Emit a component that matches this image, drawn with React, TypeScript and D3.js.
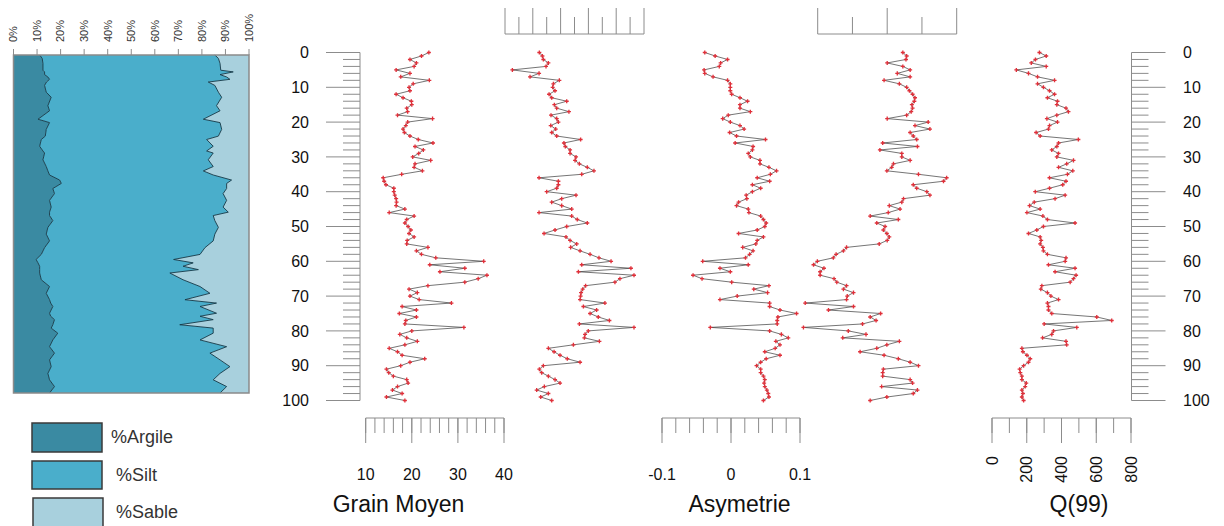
import React from 'react';
import * as d3 from 'd3';

// ---------- DATA ----------
const depths = [0,1,2,3,4,5,6,7,8,9,10,11,12,13,14,15,16,17,18,19,20,21,22,23,24,25,26,27,28,29,30,31,32,33,34,35,36,37,38,39,40,41,42,43,44,45,46,47,48,49,50,51,52,53,54,55,56,57,58,59,60,61,62,63,64,65,66,67,68,69,70,71,72,73,74,75,76,77,78,79,80,81,82,83,84,85,86,87,88,89,90,91,92,93,94,95,96,97,98,99,100];

const grainMoyen = [23.7,22.1,19.6,21.0,20.5,16.6,19.6,17.6,23.8,20.3,
 19.4,19.6,16.6,18.1,19.9,20.0,18.9,19.1,16.9,24.5,
 19.1,18.7,18.1,18.4,19.6,21.4,24.6,20.7,22.5,21.5,
 20.2,24.1,20.7,20.5,22.3,17.8,13.8,14.0,14.4,16.1,
 16.1,16.3,16.6,16.7,16.6,18.5,15.1,20.5,18.9,18.5,
 19.2,19.8,19.4,20.5,19.0,18.9,23.5,21.0,22.1,25.2,
 35.6,23.9,31.5,26.1,36.3,34.4,31.5,23.5,19.4,21.2,
 19.6,21.6,28.6,17.9,21.0,17.3,21.0,18.7,18.5,31.3,
 20.0,17.4,18.9,21.2,18.5,15.1,16.9,17.9,22.8,19.6,
 17.6,14.5,15.0,16.0,18.9,19.2,16.9,15.8,17.9,14.5,18.5];

const triage = [2.47,2.69,2.76,3.12,2.95,0.53,2.45,1.80,3.91,3.48,
 3.43,3.60,3.17,3.36,4.44,3.55,3.72,4.60,3.31,3.72,
 3.84,3.29,3.65,3.36,3.72,5.44,4.24,4.34,4.68,4.68,
 5.11,5.04,5.35,5.92,6.40,5.52,2.45,3.84,3.84,3.72,
 3.00,5.11,4.08,3.36,4.08,4.80,2.45,4.80,5.20,5.92,
 4.44,3.60,2.81,4.39,4.68,5.16,4.72,5.40,6.12,6.76,
 7.63,5.52,9.06,5.28,9.28,8.27,7.91,5.80,5.59,5.47,
 5.44,5.40,7.19,5.64,6.59,6.12,6.71,7.51,5.35,9.28,
 5.99,5.76,5.71,6.79,4.92,3.12,3.53,3.96,4.48,5.40,
 2.76,2.47,2.64,3.12,3.60,3.96,2.83,2.28,3.12,2.57,3.36];

const asymetrie = [-0.038,-0.023,-0.005,-0.015,-0.017,-0.039,-0.038,-0.026,-0.005,-0.001,
 -0.001,-0.001,0.001,0.013,0.024,0.013,0.013,0.028,-0.004,-0.012,
 -0.001,0.013,0.019,-0.002,0.008,0.050,0.006,0.032,0.031,0.025,
 0.028,0.042,0.042,0.055,0.066,0.057,0.038,0.056,0.031,0.043,
 0.031,0.022,0.023,0.011,0.008,0.025,0.026,0.043,0.047,0.051,
 0.049,0.038,0.011,0.047,0.038,0.036,0.017,0.032,0.027,0.021,
 -0.041,0.025,-0.016,-0.001,-0.055,-0.042,0.001,0.055,0.033,0.053,
 0.009,-0.016,0.056,0.056,0.071,0.095,0.068,0.067,0.067,-0.030,
 0.056,0.073,0.083,0.065,0.071,0.064,0.049,0.071,0.051,0.043,
 0.037,0.043,0.043,0.047,0.049,0.048,0.049,0.052,0.054,0.055,0.047];

const kurtosis = [3.45,3.56,3.54,3.00,3.45,3.66,3.29,3.66,2.91,3.35,
 3.56,3.64,3.73,3.80,3.78,3.71,3.73,3.69,3.56,3.00,
 4.18,3.80,4.23,3.66,3.75,3.85,2.87,3.87,2.79,3.42,
 3.42,3.66,3.18,3.13,2.99,3.90,4.71,4.62,3.75,3.85,
 4.14,4.23,3.47,3.42,3.06,3.37,3.03,2.51,3.32,2.70,
 2.94,2.89,2.99,3.06,3.00,2.77,1.83,1.74,1.53,1.45,
 0.99,0.88,1.18,1.07,1.07,1.47,1.55,1.83,1.74,2.03,
 1.85,1.83,0.64,2.03,1.31,2.81,2.51,2.68,2.29,0.59,
 1.88,2.39,1.72,3.35,2.99,2.70,2.22,2.91,3.32,3.66,
 3.90,2.89,2.87,2.87,3.66,3.73,2.84,3.87,3.75,2.99,2.51];

const q99 = [273,312,250,226,312,140,210,262,360,262,
 296,331,360,319,377,373,426,440,373,316,
 377,331,325,254,277,497,383,373,344,383,
 373,469,430,383,465,434,331,426,407,331,
 249,421,363,243,216,277,201,293,319,478,
 296,258,210,277,283,277,293,296,319,426,
 421,325,478,363,484,469,450,287,281,319,
 339,383,319,325,325,344,603,689,300,488,
 354,344,291,426,430,172,178,201,220,210,
 182,159,163,172,172,197,191,172,178,172,182];

// granulometry (stacked) samples
const sedDepth = [0,1,2.5,4.5,5,5.8,6.5,7.2,8,9,11,12.5,15,16.5,19,20,22,24,25,27,28.4,29,31,33,34.3,35.5,37,38,39.5,41,43,45,46.5,47.5,49,51,53,55,57,59,60.5,61.5,62.5,63.5,64.5,66.5,68.5,70.5,72.4,73.4,74.4,76.4,77.3,78.3,79.8,80.8,82.3,84.3,86.3,88.2,90.2,92.2,94.2,96.1,98.1,100];
const argile = [11.1,12.2,12.5,12.5,13.2,13.2,14.6,15.3,14.0,13.2,13.9,16.0,14.6,15.3,10.4,15.3,13.9,13.5,11.8,11.1,12.5,13.2,12.5,13.9,14.6,15.3,19.6,20.3,16.7,17.4,15.3,16.0,15.3,15.3,16.7,14.6,13.9,15.3,13.2,11.8,9.6,10.4,11.1,11.1,11.1,11.8,15.3,13.9,15.3,15.8,16.7,15.3,15.8,17.4,16.7,16.0,18.8,16.7,15.3,17.4,15.3,16.0,14.6,15.3,17.4,15.3];
const silt = [74.4,74.8,75.2,75.5,80.1,74.5,75.9,76.6,68.7,72.3,73.1,72.4,71.6,72.4,70.2,72.4,74.5,73.5,70.2,73.7,69.5,71.6,70.2,70.9,66.0,69.5,73.0,70.2,73.8,71.6,75.2,73.0,75.9,69.5,68.8,72.4,71.6,69.5,68.1,67.4,58.4,65.9,60.9,67.4,55.3,60.2,63.9,69.5,57.5,70.4,62.5,70.9,63.4,67.4,53.9,68.8,66.0,62.5,75.2,66.0,72.4,75.9,73.1,69.5,73.1,72.4];

const depthTickLabels = [0,10,20,30,40,50,60,70,80,90,100];
const pctTickLabels = ['0%','10%','20%','30%','40%','50%','60%','70%','80%','90%','100%'];
const grainTickLabels = [10,20,30,40];
const asymTickLabels = [-0.1,0,0.1];
const qTickLabels = [0,200,400,600,800];
const legendLabels = ['%Argile','%Silt','%Sable'];
const legendColors = ['#3a8aa2','#4aaecb','#a8d0dd'];

// ---------- LAYOUT ----------
const FONT = '"Liberation Sans", Arial, Helvetica, sans-serif';
const AX = '#8c8c8c';

const yDepth = d3.scaleLinear().domain([0, 100]).range([52.5, 400.5]);
const ySed = d3.scaleLinear().domain([0, 100]).range([55, 393]);
const xPct = d3.scaleLinear().domain([0, 100]).range([13.5, 249]);

const xGrain = d3.scaleLinear().domain([10, 40]).range([365.7, 504]);
const xTri = d3.scaleLinear().domain([0, 10]).range([505, 644]);
const xAsym = d3.scaleLinear().domain([-0.1, 0.1]).range([662, 800]);
const xKurt = d3.scaleLinear().domain([1, 5]).range([817.7, 956.7]);
const xQ = d3.scaleLinear().domain([0, 800]).range([992, 1131]);

const series = [
  { key: 'grain', values: grainMoyen, x: xGrain },
  { key: 'tri', values: triage, x: xTri },
  { key: 'asym', values: asymetrie, x: xAsym },
  { key: 'kurt', values: kurtosis, x: xKurt },
  { key: 'q', values: q99, x: xQ },
];

const cross = d3.symbol().type(d3.symbolCross).size(9)();

function SeriesPanel({ values, x }: { values: number[]; x: d3.ScaleLinear<number, number> }) {
  const pts = values.map((v, i) => [x(v), yDepth(depths[i])] as [number, number]);
  const line = d3.line()(pts) || '';
  return (
    <g>
      <path d={line} fill="none" stroke="#3a3a3a" strokeWidth={0.7} />
      {pts.map((p, i) => (
        <path key={i} d={cross} transform={`translate(${p[0]},${p[1]})`} fill="#e0303a" />
      ))}
    </g>
  );
}

function BottomAxis({ x, minor, major, labels, fmt, rotate, title, titleX }: any) {
  const y0 = 418;
  const [a, b] = x.range();
  return (
    <g>
      <line x1={a} x2={b} y1={y0} y2={y0} stroke={AX} strokeWidth={1} />
      {minor.map((t: number, i: number) => (
        <line key={'m' + i} x1={x(t)} x2={x(t)} y1={y0} y2={y0 + 15} stroke={AX} strokeWidth={1} />
      ))}
      {major.map((t: number, i: number) => (
        <line key={'M' + i} x1={x(t)} x2={x(t)} y1={y0} y2={y0 + 25} stroke={AX} strokeWidth={1} />
      ))}
      {labels.map((t: number, i: number) =>
        rotate ? (
          <text key={'l' + i} transform={`translate(${x(t)},456) rotate(-90)`} textAnchor="end" dy="0.35em"
            fontSize={16} fill="#111">{fmt(t)}</text>
        ) : (
          <text key={'l' + i} x={x(t)} y={480} textAnchor="middle" fontSize={16} fill="#111">{fmt(t)}</text>
        )
      )}
      <text x={titleX} y={512} textAnchor="middle" fontSize={23} fill="#111">{title}</text>
    </g>
  );
}

function TopAxis({ x, minor, major }: any) {
  const y0 = 34;
  const [a, b] = x.range();
  return (
    <g>
      <line x1={a} x2={b} y1={y0} y2={y0} stroke={AX} strokeWidth={1} />
      {minor.map((t: number, i: number) => (
        <line key={'m' + i} x1={x(t)} x2={x(t)} y1={y0} y2={17} stroke={AX} strokeWidth={1} />
      ))}
      {major.map((t: number, i: number) => (
        <line key={'M' + i} x1={x(t)} x2={x(t)} y1={y0} y2={8} stroke={AX} strokeWidth={1} />
      ))}
    </g>
  );
}

function DepthAxis({ side }: { side: 'left' | 'right' }) {
  const minorTicks = d3.range(0, 100.001, 2);
  const xl = side === 'left' ? 360 : 1131.5;
  const dir = side === 'left' ? -1 : 1;
  return (
    <g>
      <line x1={xl} x2={xl} y1={yDepth(0)} y2={yDepth(100)} stroke={AX} strokeWidth={1} />
      {minorTicks.map((t, i) => (
        <line key={i} x1={xl} x2={xl + dir * (t % 10 === 0 ? 34 : 17)} y1={yDepth(t)} y2={yDepth(t)}
          stroke={AX} strokeWidth={1} />
      ))}
      {depthTickLabels.map((t, i) => (
        <text key={'l' + i} x={side === 'left' ? 309 : 1183} y={yDepth(t)} dy="0.35em"
          textAnchor={side === 'left' ? 'end' : 'start'} fontSize={16} fill="#111">{t}</text>
      ))}
    </g>
  );
}

function Stacked() {
  const idx = sedDepth.map((_, i) => i);
  const areaArg = d3.area<number>().y((i) => ySed(sedDepth[i])).x0(() => xPct(0)).x1((i) => xPct(argile[i]));
  const areaSilt = d3.area<number>().y((i) => ySed(sedDepth[i])).x0((i) => xPct(argile[i])).x1((i) => xPct(argile[i] + silt[i]));
  const areaSable = d3.area<number>().y((i) => ySed(sedDepth[i])).x0((i) => xPct(argile[i] + silt[i])).x1(() => xPct(100));
  const l1 = d3.line<number>().x((i) => xPct(argile[i])).y((i) => ySed(sedDepth[i]));
  const l2 = d3.line<number>().x((i) => xPct(argile[i] + silt[i])).y((i) => ySed(sedDepth[i]));
  const pctTicks = d3.range(0, 100.001, 10);
  return (
    <g>
      <path d={areaSable(idx) || ''} fill={legendColors[2]} />
      <path d={areaSilt(idx) || ''} fill={legendColors[1]} />
      <path d={areaArg(idx) || ''} fill={legendColors[0]} />
      <path d={l1(idx) || ''} fill="none" stroke="#143846" strokeWidth={0.9} />
      <path d={l2(idx) || ''} fill="none" stroke="#143846" strokeWidth={0.9} />
      <rect x={xPct(0)} y={ySed(0)} width={xPct(100) - xPct(0)} height={ySed(100) - ySed(0)}
        fill="none" stroke="#8a8a8a" strokeWidth={1.5} />
      {pctTicks.map((t, i) => (
        <line key={i} x1={xPct(t)} x2={xPct(t)} y1={ySed(0)} y2={ySed(0) - 6} stroke={AX} strokeWidth={1} />
      ))}
      {pctTickLabels.map((s, i) => (
        <text key={'p' + i} transform={`translate(${xPct(pctTicks[i])},42) rotate(-90)`} dy="0.35em"
          textAnchor="start" fontSize={11} fill="#333">{s}</text>
      ))}
    </g>
  );
}

function Legend() {
  const boxes = [
    { x: 32, y: 423, h: 29 },
    { x: 32, y: 461, h: 28 },
    { x: 33, y: 498, h: 30 },
  ];
  const tx = [111, 116, 116];
  return (
    <g>
      {boxes.map((b, i) => (
        <g key={i}>
          <rect x={b.x} y={b.y} width={70} height={b.h} fill={legendColors[i]} stroke="#3a3a3a" strokeWidth={1.5} />
          <text x={tx[i]} y={b.y + 14} dy="0.35em" fontSize={18} fill="#333">{legendLabels[i]}</text>
        </g>
      ))}
    </g>
  );
}

export default function App() {
  return (
    <svg width={1224} height={526} style={{ position: 'absolute', left: 0, top: 0, background: '#fff' }}
      fontFamily={FONT}>
      <rect x={0} y={0} width={1224} height={526} fill="#fff" />
      <Stacked />
      <Legend />
      <DepthAxis side="left" />
      <DepthAxis side="right" />
      <TopAxis x={xTri} minor={[1, 3, 5, 7, 9]} major={[0, 2, 4, 6, 8, 10]} />
      <TopAxis x={xKurt} minor={[2, 4]} major={[1, 3, 5]} />
      {series.map((s) => (
        <SeriesPanel key={s.key} values={s.values} x={s.x} />
      ))}
      <BottomAxis x={xGrain} minor={d3.range(10, 40.001, 2)} major={grainTickLabels} labels={grainTickLabels}
        fmt={(t: number) => String(t)} title="Grain Moyen" titleX={398.5} />
      <BottomAxis x={xAsym} minor={d3.range(-0.1, 0.1001, 0.02)} major={asymTickLabels} labels={asymTickLabels}
        fmt={(t: number) => String(t)} title="Asymetrie" titleX={739.5} />
      <BottomAxis x={xQ} minor={d3.range(0, 800.001, 100)} major={qTickLabels} labels={qTickLabels}
        fmt={(t: number) => String(t)} rotate title="Q(99)" titleX={1079} />
    </svg>
  );
}
